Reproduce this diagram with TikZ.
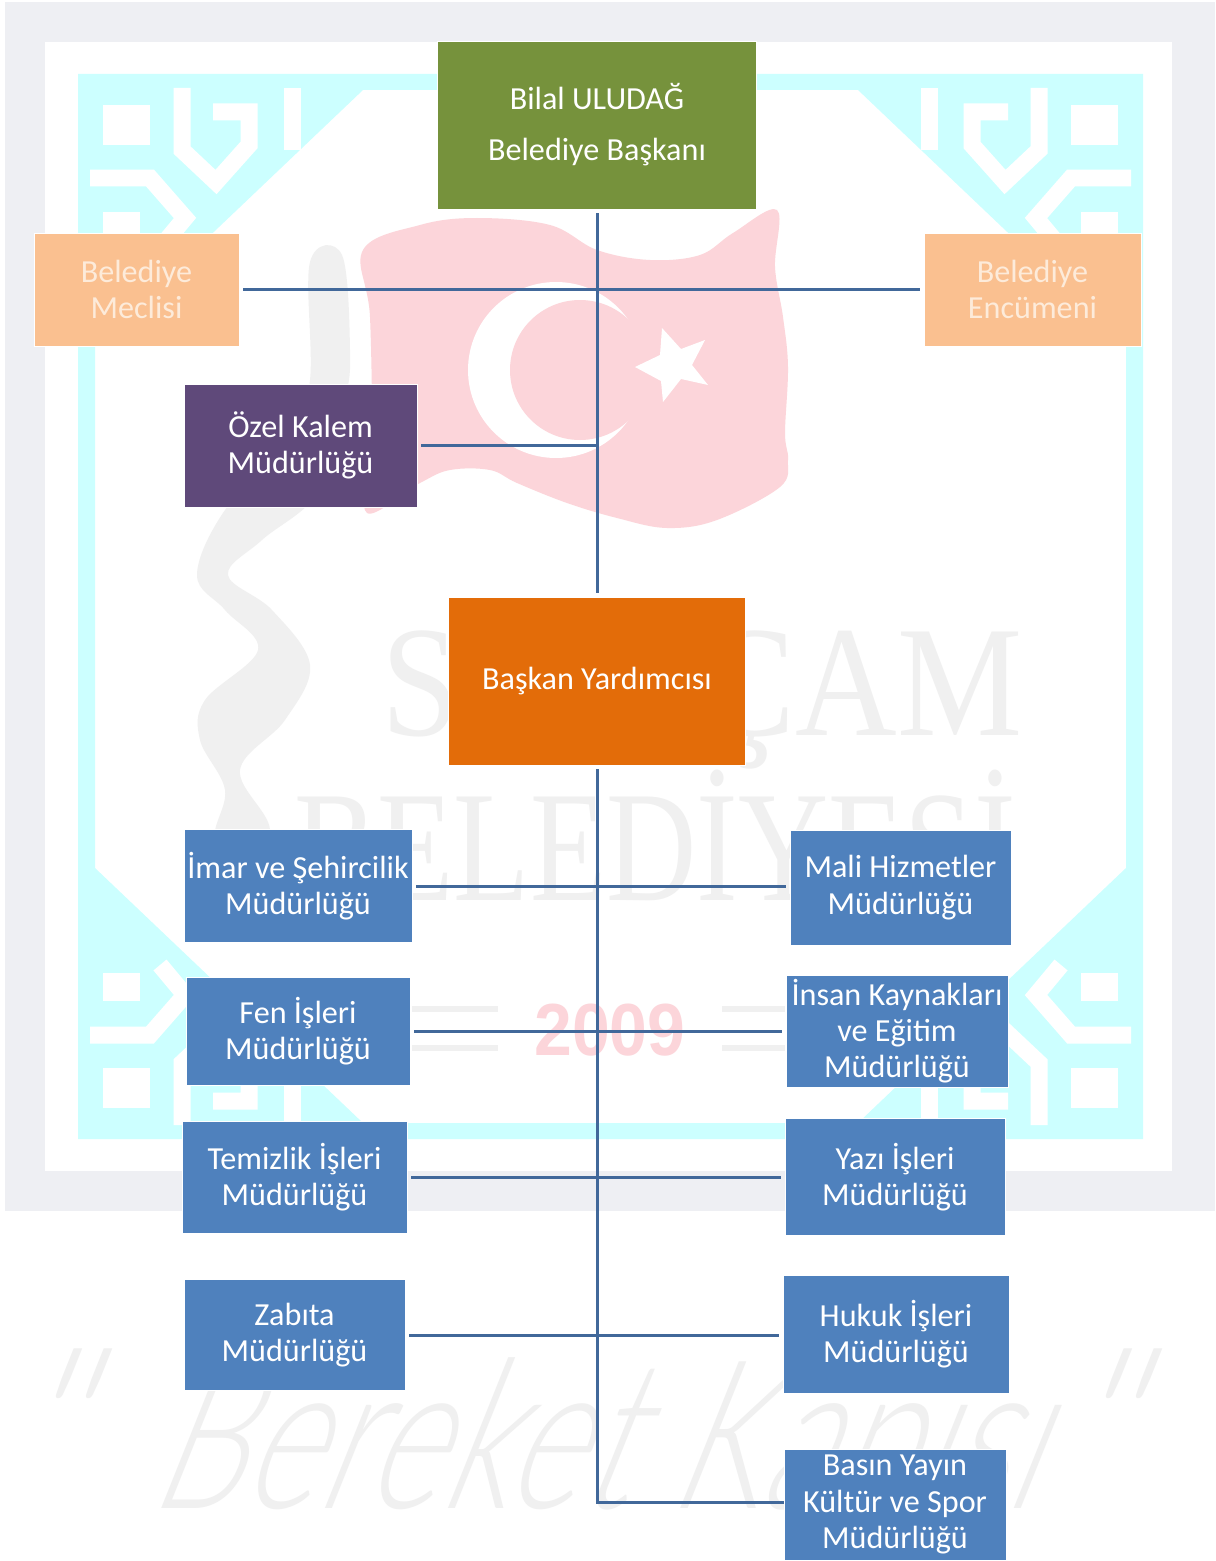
\documentclass[tikz,border=0pt]{standalone}
\usepackage{fontspec}
\setmainfont{Carlito}
\newfontfamily\markserif{Liberation Serif}
\newfontfamily\marksans{Liberation Sans}
\newfontfamily\markthin{Lato Light}
\definecolor{framegrey}{HTML}{EEEFF3}
\definecolor{markgrey}{HTML}{F0F0F0}
\definecolor{cornercyan}{HTML}{CCFFFF}
\definecolor{flagpink}{HTML}{FCD5DA}
\definecolor{chiefgreen}{HTML}{76923C}
\definecolor{boardpeach}{HTML}{FAC090}
\definecolor{boardtext}{HTML}{FDEBDA}
\definecolor{officepurple}{HTML}{5F497A}
\definecolor{deputyorange}{HTML}{E36C09}
\definecolor{deptblue}{HTML}{4F81BD}
\definecolor{linkblue}{HTML}{41689A}
\tikzset{
  unit/.style n args={3}{
    draw=white, line width=0.5pt, fill=#1, text=white, inner sep=0pt, align=center,
    minimum width=#2*0.02cm, minimum height=#3*0.02cm,
    font=\fontsize{18.3}{20.6}\selectfont
  },
  dept/.style 2 args={unit={deptblue}{#1}{#2}},
  link/.style={draw=linkblue, line width=1.7pt},
  gapped/.style={shorten <=0.08cm, shorten >=0.08cm},
  ornament/.style={draw=white, line width=0.34cm, line join=miter},
  motto/.style={anchor=base, text=markgrey, xslant=0.4, font=\markthin\fontsize{118}{118}\selectfont}
}

\begin{document}
\begin{tikzpicture}[x=0.02cm,y=-0.02cm]
  \useasboundingbox (0,0) rectangle (1215,1561);
  % background
  \fill[white] (0,0) rectangle (1215,1561);
  \fill[framegrey] (5,2) rectangle (1215,1211);
  \fill[white] (45,42) rectangle (1172,1171);
  \fill[cornercyan,even odd rule] (78,74) rectangle (1143,1139)
    (363,90)--(858,90)--(1126,345)--(1126,868)--(858,1123)--(363,1123)--(95,868)--(95,345)--cycle;
  \foreach \sx/\sy in {1/1,-1/1,1/-1,-1/-1} {
    \begin{scope}[shift={(610.5,606.5)},xscale=\sx,yscale=\sy,shift={(-610.5,-606.5)}]
      \fill[white] (103,105) rectangle (150,145);
      \fill[white] (103,212) rectangle (140,240);
      \draw[ornament] (182,88)--(182,150)--(216,182)--(249,145)--(249,112)--(213,112);
      \draw[ornament] (292,88)--(292,150);
      \draw[ornament] (90,178)--(150,178)--(185,218)--(160,248);
    \end{scope}
  }
  % flag
  \fill[flagpink] plot[smooth cycle,tension=0.6] coordinates {
    (363,250) (420,225) (477,218) (550,225) (597,250) (650,260) (700,255) (733,233) (777,210)
    (775,267) (783,317) (788,367) (785,433) (788,460) (780,487) (717,520) (667,528) (617,518)
    (567,503) (517,483) (490,470) (450,470) (420,483) (367,513) (372,450) (370,317)};
  \fill[white] (556,370) circle (88);
  \fill[flagpink] (580,370) circle (70);
  \fill[white] (662,328)--(681,349)--(705,340)--(692,365)--(708,385)--(681,379)--(663,402)--(661,381)--(635,367)--(660,355)--cycle;
  % watermark
  \fill[markgrey] plot[smooth cycle,tension=0.6] coordinates {
    (310,262) (342,255) (350,350) (345,400) (320,490) (262,540) (228,575) (272,610) (310,665)
    (285,720) (240,770) (270,830) (245,880) (215,840) (225,790) (200,740) (205,700) (258,650)
    (225,610) (197,575) (225,510) (290,440) (310,380)};
  \node[anchor=base,text=markgrey,xscale=0.89,font=\markserif\fontsize{90}{90}\selectfont] (markname) at (702,735) {SARIÇAM};
  \node[anchor=base,text=markgrey,xscale=0.79,font=\markserif\fontsize{90}{90}\selectfont] (markcity) at (655,900) {BELEDİYESİ};
  \node[anchor=base,text=flagpink,xscale=0.92,font=\marksans\bfseries\fontsize{42}{42}\selectfont] (markyear) at (610,1055) {2009};
  \foreach \yy in {1009,1048} {
    \draw[markgrey,line width=0.12cm] (412,\yy)--(498,\yy);
    \draw[markgrey,line width=0.12cm] (722,\yy)--(785,\yy);
  }
  \node[motto,xscale=0.7] (markmotto) at (590,1508) {Bereket Kapısı};
  \node[motto] (markopen) at (35,1495) {"};
  \node[motto] (markclose) at (1085,1495) {"};
  % units
  \node[unit={chiefgreen}{319}{168}] (mayor) at (597,125) {Bilal ULUDAĞ\\[8.5pt]Belediye Başkanı};
  \node[unit={boardpeach}{205}{113},text=boardtext] (meclis) at (136.5,289.5) {Belediye\\Meclisi};
  \node[unit={boardpeach}{217}{113},text=boardtext] (encumen) at (1032.5,289.5) {Belediye\\Encümeni};
  \node[unit={officepurple}{233}{123}] (ozel) at (300.5,445.5) {Özel Kalem\\Müdürlüğü};
  \node[unit={deputyorange}{297}{168}] (vice) at (597,681) {\raisebox{-1pt}{Başkan Yardımcısı}};
  \node[dept={228}{113}] (imar) at (298,886) {İmar ve Şehircilik\\Müdürlüğü};
  \node[dept={221}{115}] (mali) at (900.5,887.5) {Mali Hizmetler\\Müdürlüğü};
  \node[dept={224}{108}] (fen) at (298,1031) {Fen İşleri\\Müdürlüğü};
  \node[dept={222}{112}] (insan) at (897,1031) {İnsan Kaynakları\\ve Eğitim\\Müdürlüğü};
  \node[dept={225}{112}] (temizlik) at (294.5,1177) {Temizlik İşleri\\Müdürlüğü};
  \node[dept={220}{117}] (yazi) at (895,1177) {Yazı İşleri\\Müdürlüğü};
  \node[dept={221}{111}] (zabita) at (294.5,1335) {Zabıta\\Müdürlüğü};
  \node[dept={226}{118}] (hukuk) at (896,1334) {Hukuk İşleri\\Müdürlüğü};
  \node[dept={222}{111}] (basin) at (895,1504.5) {Basın Yayın\\Kültür ve Spor\\Müdürlüğü};
  \coordinate (spineend) at (597,1502);
  % connectors
  \draw[link,gapped] (mayor.south)--(vice.north);
  \draw[link,gapped] (meclis.east)--(encumen.west);
  \draw[link,shorten <=0.08cm] (ozel.east)--(ozel.east -| vice.north);
  \draw[link,shorten <=0.08cm] (vice.south)--(spineend)--(spineend -| basin.west);
  \draw[link,gapped] (imar.east)--(imar.east -| mali.west);
  \draw[link,gapped] (fen.east)--(insan.west);
  \draw[link,gapped] (temizlik.east)--(yazi.west);
  \draw[link,gapped] (zabita.east)--(zabita.east -| hukuk.west);
\end{tikzpicture}
\end{document}
